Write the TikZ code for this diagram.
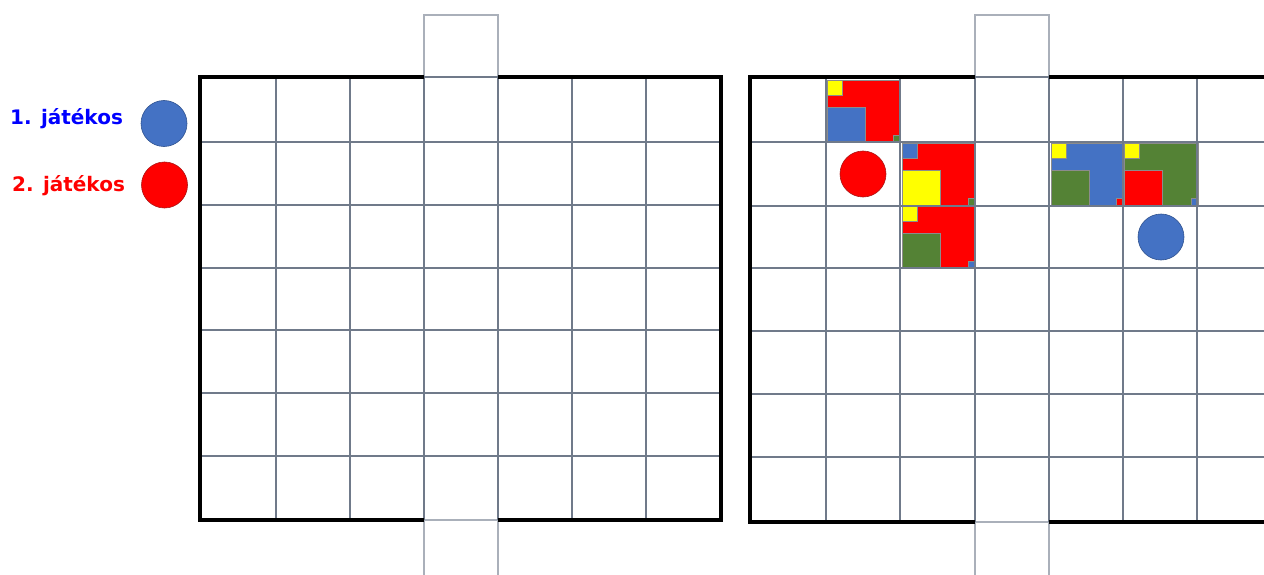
\documentclass[tikz,border=0pt]{standalone}
\usepackage{fontspec}
\setmainfont{DejaVu Sans}
\definecolor{gridc}{RGB}{112,122,138}
\definecolor{extc}{RGB}{170,176,186}
\definecolor{pblue}{RGB}{68,114,196}
\definecolor{pblued}{RGB}{47,82,143}
\definecolor{pgreen}{RGB}{84,130,53}
\definecolor{pred}{RGB}{255,0,0}
\definecolor{predd}{RGB}{170,20,20}
\definecolor{pyellow}{RGB}{255,255,0}
\newcommand\mytile[8]{%
  \filldraw[fill=#5,draw=black!45,line width=0.4pt] (#1,#2) rectangle (#3,#4);
  \filldraw[fill=#6,draw=black!45,line width=0.4pt] (#1,#2) rectangle ++(15,15);
  \filldraw[fill=#7,draw=black!45,line width=0.4pt] (#1,#4) rectangle ++(38,-35);
  \filldraw[fill=#8,draw=black!45,line width=0.4pt] (#3,#4) rectangle ++(-7,-7);
}
\tikzset{
  gridline/.style={draw=gridc,line width=1.5pt},
  extline/.style={draw=extc,line width=1.3pt},
  border/.style={draw=black,line width=4pt,line join=miter},
  token/.style={circle,inner sep=0pt,minimum size=46pt,line width=0.6pt},
  legend/.style={anchor=base west,font=\bfseries\fontsize{20}{24}\selectfont,inner sep=0pt}
}
\begin{document}
\begin{tikzpicture}[x=1pt,y=-1pt]
\useasboundingbox (0,0) rectangle (1264,575);
\clip (0,0) rectangle (1264,575);
\fill[white] (0,0) rectangle (1264,575);

% legend
\node[legend,text=blue] (l1) at (10,125) {1. játékos};
\node[legend,text=red] (l2) at (12,192) {2. játékos};
\node[token,fill=pblue,draw=pblued] (lc1) at (164,123.5) {};
\node[token,fill=pred,draw=predd] (lc2) at (164.5,185) {};

% ---------- left board ----------
\draw[extline] (424,77) -- (424,15) -- (498,15) -- (498,77);
\draw[extline] (424,520) -- (424,580);
\draw[extline] (498,520) -- (498,580);
\draw[extline] (424,520) -- (498,520);
\foreach \x in {276,350,424,498,572,646} \draw[gridline] (\x,77) -- (\x,520);
\foreach \y in {142,205,268,330,393,456} \draw[gridline] (200,\y) -- (721,\y);
\draw[gridline] (424,77) -- (498,77);
\draw[border] (424,77) -- (200,77) -- (200,520) -- (424,520);
\draw[border] (498,77) -- (721,77) -- (721,520) -- (498,520);

% ---------- right board ----------
\mytile{827}{80}{900}{142}{pred}{pyellow}{pblue}{pgreen}
\mytile{902}{143}{975}{205}{pred}{pblue}{pyellow}{pgreen}
\mytile{902}{206}{975}{268}{pred}{pyellow}{pgreen}{pblue}
\mytile{1051}{143}{1123}{205}{pblue}{pyellow}{pgreen}{pred}
\mytile{1124}{143}{1198}{205}{pgreen}{pyellow}{pred}{pblue}

\draw[extline] (975,77) -- (975,15) -- (1049,15) -- (1049,77);
\draw[extline] (975,522) -- (975,580);
\draw[extline] (1049,522) -- (1049,580);
\draw[extline] (975,522) -- (1049,522);
\foreach \x in {826,900,975,1049,1123,1197} \draw[gridline] (\x,77) -- (\x,522);
\foreach \y in {142,206,268,331,394,457} \draw[gridline] (750,\y) -- (1270,\y);
\draw[gridline] (975,77) -- (1049,77);
\draw[border] (975,77) -- (750,77) -- (750,522) -- (975,522);
\draw[border] (1049,77) -- (1270,77);
\draw[border] (1049,522) -- (1270,522);

\node[token,fill=pred,draw=predd] (rc) at (863,174) {};
\node[token,fill=pblue,draw=pblued] (bc) at (1161,237) {};
\end{tikzpicture}
\end{document}
